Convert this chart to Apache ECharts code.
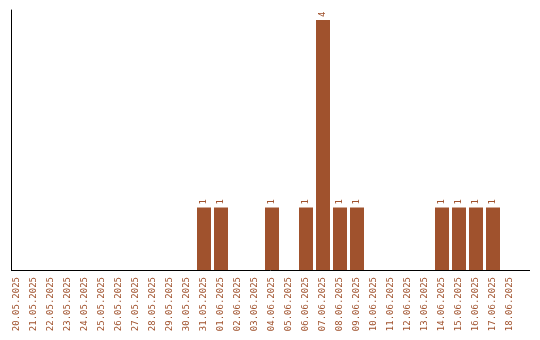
<!DOCTYPE html>
<html><head><meta charset="utf-8">
<script src="https://cdn.jsdelivr.net/npm/echarts@6/dist/echarts.min.js"></script>
<style>html,body{margin:0;padding:0;background:#fff}#c{width:540px;height:340px}</style>
</head><body><div id="c"></div>
<script>
const categories = ["20.05.2025","21.05.2025","22.05.2025","23.05.2025","24.05.2025","25.05.2025","26.05.2025","27.05.2025","28.05.2025","29.05.2025","30.05.2025","31.05.2025","01.06.2025","02.06.2025","03.06.2025","04.06.2025","05.06.2025","06.06.2025","07.06.2025","08.06.2025","09.06.2025","10.06.2025","11.06.2025","12.06.2025","13.06.2025","14.06.2025","15.06.2025","16.06.2025","17.06.2025","18.06.2025"];
const values = [0,0,0,0,0,0,0,0,0,0,0,1,1,0,0,1,0,1,4,1,1,0,0,0,0,1,1,1,1,0];
const color = '#A0522D';
const chart = echarts.init(document.getElementById('c'), null, {renderer:'canvas'});
chart.setOption({
  animation:false,
  grid:{left:8.5,right:21.5,top:10,bottom:70,containLabel:false},
  graphic:[{type:'line',shape:{x1:11,y1:270.5,x2:530,y2:270.5},style:{stroke:'#000',lineWidth:1},z:10}],
  xAxis:{type:'category',data:categories,
    axisLine:{show:false},
    axisTick:{show:false},
    axisLabel:{rotate:90,interval:0,color:color,fontFamily:'DejaVu Sans Mono',fontSize:9,margin:7}},
  yAxis:{type:'value',min:0,max:4.16,offset:-2.5,
    axisLine:{show:true,lineStyle:{color:'#000',width:1}},
    axisTick:{show:false},axisLabel:{show:false},splitLine:{show:false}},
  series:[{type:'bar',data:values.map(v=>v===0?{value:0,label:{show:false}}:v),barWidth:14,
    itemStyle:{color:color},
    label:{show:true,position:'top',rotate:90,align:'left',verticalAlign:'middle',distance:3,
      color:color,fontFamily:'DejaVu Sans Mono',fontSize:9}}]
});
</script></body></html>
